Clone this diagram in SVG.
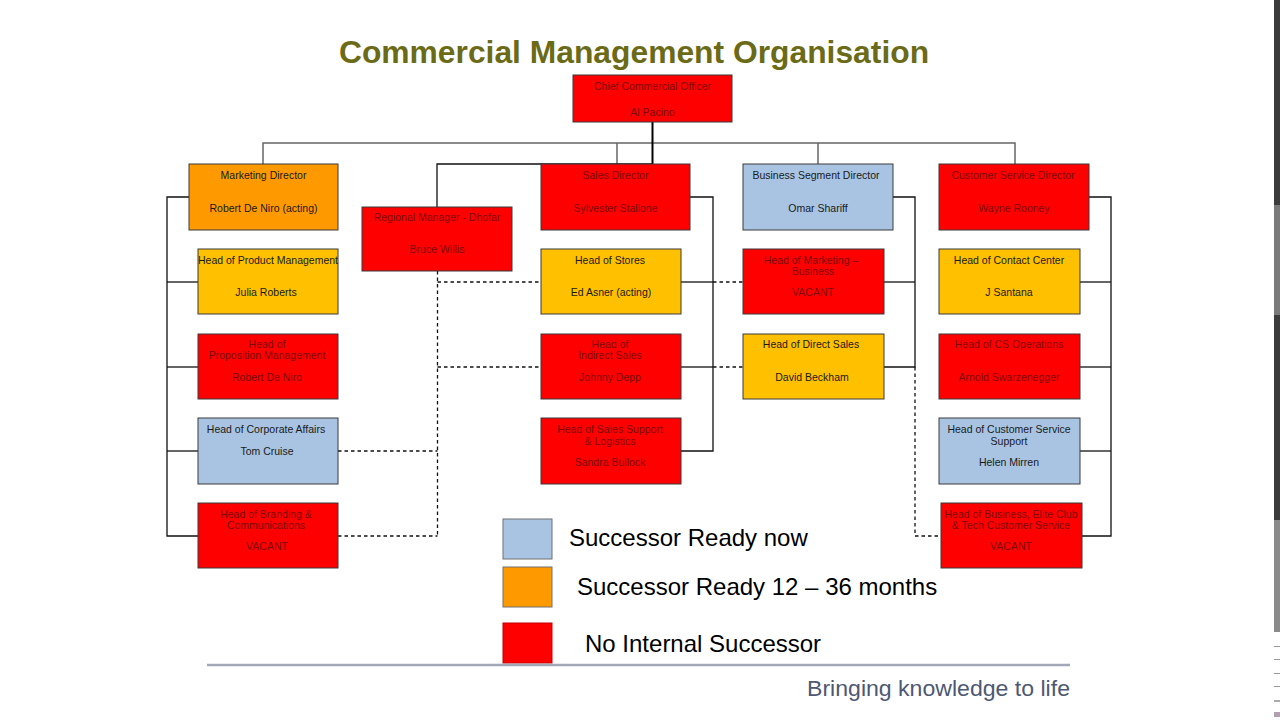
<svg xmlns="http://www.w3.org/2000/svg" width="1280" height="720" viewBox="0 0 1280 720">
<style>
.bg{fill:#ffffff}
.box{stroke:#3a3a3a;stroke-width:1}
.red{fill:#fe0000}
.orange{fill:#ff9900}
.yellow{fill:#ffc000}
.blue{fill:#a8c4e2}
text{font-family:"Liberation Sans",Arial,sans-serif}
.t{font-size:10.5px;fill:#1a1a1a;text-anchor:middle}
.tr{font-size:10.5px;fill:#7a0a0a;text-anchor:middle}
.bus{stroke:#666666;stroke-width:1.5;fill:none}
.conn{stroke:#111111;stroke-width:1.3;fill:none}
.dash{stroke:#111111;stroke-width:1.3;fill:none;stroke-dasharray:3.5,3}
.title{font-size:31.8px;font-weight:bold;fill:#6b6b17;text-anchor:middle}
.leg{font-size:24px;fill:#000000}
.legbox{stroke:#707070;stroke-width:1}
</style>
<rect class="bg" x="0" y="0" width="1280" height="720"/>

<text class="title" x="634" y="63">Commercial Management Organisation</text>

<g id="connectors">
  <polyline class="bus" points="263,164 263,143 1015,143 1015,164"/>
  <line class="bus" x1="617" y1="143" x2="617" y2="164"/>
  <line class="bus" x1="818" y1="143" x2="818" y2="164"/>
  <line stroke="#000" stroke-width="2" x1="652.5" y1="122" x2="652.5" y2="164"/>
  <polyline class="conn" points="437,207 437,164 652,164"/>
  <polyline class="conn" points="189,197 167,197 167,536 198,536"/>
  <line class="conn" x1="167" y1="282" x2="198" y2="282"/>
  <line class="conn" x1="167" y1="367" x2="198" y2="367"/>
  <line class="conn" x1="167" y1="451" x2="198" y2="451"/>
  <polyline class="conn" points="690,197 713,197 713,451 681,451"/>
  <line class="conn" x1="681" y1="282" x2="713" y2="282"/>
  <line class="conn" x1="681" y1="367" x2="713" y2="367"/>
  <polyline class="conn" points="893,197 915,197 915,367 884,367"/>
  <line class="conn" x1="884" y1="282" x2="915" y2="282"/>
  <polyline class="conn" points="1089,197 1111,197 1111,536 1082,536"/>
  <line class="conn" x1="1080" y1="282" x2="1111" y2="282"/>
  <line class="conn" x1="1080" y1="367" x2="1111" y2="367"/>
  <line class="conn" x1="1080" y1="451" x2="1111" y2="451"/>
  <line class="dash" x1="437.5" y1="271" x2="437.5" y2="536"/>
  <line class="dash" x1="437.5" y1="282" x2="541" y2="282"/>
  <line class="dash" x1="437.5" y1="367" x2="541" y2="367"/>
  <line class="dash" x1="338" y1="451" x2="437.5" y2="451"/>
  <line class="dash" x1="338" y1="536" x2="437.5" y2="536"/>
  <line class="dash" x1="713" y1="282" x2="743" y2="282"/>
  <line class="dash" x1="713" y1="367" x2="743" y2="367"/>
  <polyline class="dash" points="915,367 915,536 941,536"/>
</g>

<g id="cco">
  <rect class="box red" x="573" y="75" width="159" height="47"/>
  <text class="tr" x="652.5" y="90">Chief Commercial Officer</text>
  <text class="tr" x="652.5" y="116">Al Pacino</text>
</g>

<g id="marketing-director">
  <rect class="box orange" x="189" y="164" width="149" height="66"/>
  <text class="t" x="263.5" y="179">Marketing Director</text>
  <text class="t" x="263.5" y="212">Robert De Niro (acting)</text>
</g>
<g id="regional-manager">
  <rect class="box red" x="362" y="207" width="150" height="64"/>
  <text class="tr" x="437" y="221">Regional Manager - Dhofar</text>
  <text class="tr" x="437" y="253">Bruce Willis</text>
</g>
<g id="sales-director">
  <rect class="box red" x="541" y="164" width="149" height="66"/>
  <text class="tr" x="615.5" y="179">Sales Director</text>
  <text class="tr" x="615.5" y="212">Sylvester Stallone</text>
</g>
<g id="business-segment-director">
  <rect class="box blue" x="743" y="164" width="150" height="66"/>
  <text class="t" x="816" y="179">Business Segment Director</text>
  <text class="t" x="818" y="212">Omar Shariff</text>
</g>
<g id="customer-service-director">
  <rect class="box red" x="939" y="164" width="150" height="66"/>
  <text class="tr" x="1013" y="179">Customer Service Director</text>
  <text class="tr" x="1014" y="212">Wayne Rooney</text>
</g>

<g id="head-product-management">
  <rect class="box yellow" x="198" y="249" width="140" height="65"/>
  <text class="t" x="268" y="264">Head of Product Management</text>
  <text class="t" x="266" y="296">Julia Roberts</text>
</g>
<g id="head-proposition-management">
  <rect class="box red" x="198" y="334" width="140" height="65"/>
  <text class="tr" x="267" y="348">Head of</text>
  <text class="tr" x="267" y="359">Proposition Management</text>
  <text class="tr" x="267" y="381">Robert De Niro</text>
</g>
<g id="head-corporate-affairs">
  <rect class="box blue" x="198" y="418" width="140" height="66"/>
  <text class="t" x="266" y="433">Head of Corporate Affairs</text>
  <text class="t" x="267" y="455">Tom Cruise</text>
</g>
<g id="head-branding">
  <rect class="box red" x="198" y="503" width="140" height="65"/>
  <text class="tr" x="266" y="518">Head of Branding &amp;</text>
  <text class="tr" x="266" y="529">Communications</text>
  <text class="tr" x="267" y="550">VACANT</text>
</g>

<g id="head-stores">
  <rect class="box yellow" x="541" y="249" width="140" height="65"/>
  <text class="t" x="610" y="264">Head of Stores</text>
  <text class="t" x="611" y="296">Ed Asner (acting)</text>
</g>
<g id="head-indirect-sales">
  <rect class="box red" x="541" y="334" width="140" height="65"/>
  <text class="tr" x="610" y="348">Head of</text>
  <text class="tr" x="610" y="359">Indirect Sales</text>
  <text class="tr" x="610" y="381">Johnny Depp</text>
</g>
<g id="head-sales-support">
  <rect class="box red" x="541" y="418" width="140" height="66"/>
  <text class="tr" x="610" y="433">Head of Sales Support</text>
  <text class="tr" x="610" y="445">&amp; Logistics</text>
  <text class="tr" x="610" y="466">Sandra Bullock</text>
</g>

<g id="head-marketing-business">
  <rect class="box red" x="743" y="249" width="141" height="65"/>
  <text class="tr" x="811" y="264">Head of Marketing –</text>
  <text class="tr" x="813" y="275">Business</text>
  <text class="tr" x="813" y="296">VACANT</text>
</g>
<g id="head-direct-sales">
  <rect class="box yellow" x="743" y="334" width="141" height="65"/>
  <text class="t" x="811" y="348">Head of Direct Sales</text>
  <text class="t" x="812" y="381">David Beckham</text>
</g>

<g id="head-contact-center">
  <rect class="box yellow" x="939" y="249" width="141" height="65"/>
  <text class="t" x="1009" y="264">Head of Contact Center</text>
  <text class="t" x="1009" y="296">J Santana</text>
</g>
<g id="head-cs-operations">
  <rect class="box red" x="939" y="334" width="141" height="65"/>
  <text class="tr" x="1009" y="348">Head of CS Operations</text>
  <text class="tr" x="1009" y="381">Arnold Swarzenegger</text>
</g>
<g id="head-cs-support">
  <rect class="box blue" x="939" y="418" width="141" height="66"/>
  <text class="t" x="1009" y="433">Head of Customer Service</text>
  <text class="t" x="1009" y="445">Support</text>
  <text class="t" x="1009" y="466">Helen Mirren</text>
</g>
<g id="head-business-elite">
  <rect class="box red" x="941" y="503" width="141" height="65"/>
  <text class="tr" x="1011" y="518">Head of Business, Elite Club</text>
  <text class="tr" x="1011" y="529">&amp; Tech Customer Service</text>
  <text class="tr" x="1011" y="550">VACANT</text>
</g>

<g id="legend">
  <rect class="legbox blue" x="503" y="519" width="49" height="40"/>
  <rect class="legbox orange" x="503" y="567" width="49" height="40"/>
  <rect fill="#fe0000" stroke="#c00000" stroke-width="1" x="503" y="623" width="49" height="40"/>
  <text class="leg" x="569" y="546">Successor Ready now</text>
  <text class="leg" x="577" y="595">Successor Ready 12 – 36 months</text>
  <text class="leg" x="585" y="652">No Internal Successor</text>
</g>

<g id="footer">
  <line x1="207" y1="665" x2="1070" y2="665" stroke="#a3a8b8" stroke-width="2.5"/>
  <text x="807" y="696" font-family="'Open Sans','Noto Sans',sans-serif" font-size="21.5" font-weight="normal" fill="#4e5872" textLength="263" lengthAdjust="spacingAndGlyphs">Bringing knowledge to life</text>
</g>

<g id="edge-strip">
  <rect x="1274" y="0" width="6" height="205" fill="#3c3c3c"/>
  <rect x="1274" y="205" width="6" height="110" fill="#7a7a7a"/>
  <rect x="1274" y="315" width="6" height="205" fill="#3c3c3c"/>
  <rect x="1274" y="520" width="6" height="112" fill="#8a8a8a"/>
  <rect x="1274" y="646" width="6" height="1" fill="#999"/>
  <rect x="1274" y="659" width="6" height="1" fill="#999"/>
  <rect x="1274" y="673" width="6" height="1" fill="#999"/>
  <rect x="1274" y="686" width="6" height="1" fill="#999"/>
  <rect x="1274" y="700" width="6" height="2" fill="#aaa"/>
  <rect x="1274" y="712" width="6" height="5" fill="#b0a0b0"/>
</g>
</svg>
